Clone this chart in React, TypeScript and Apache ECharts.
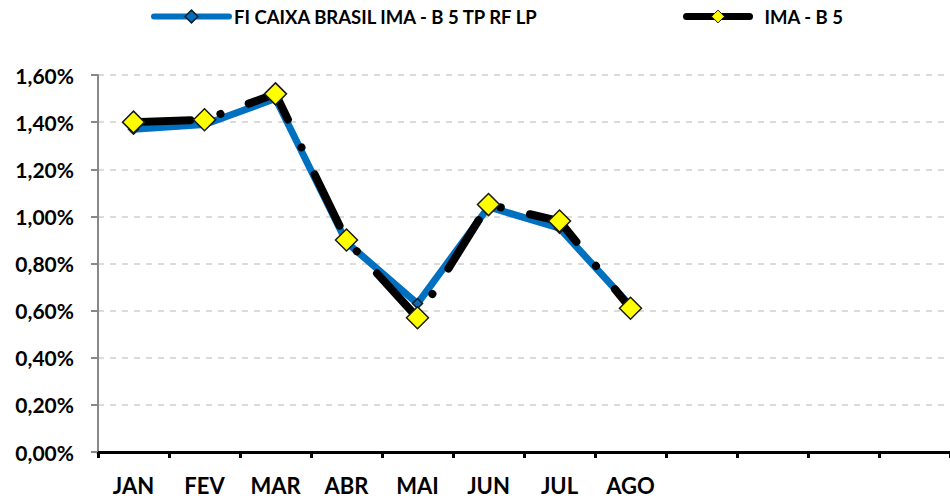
import React, { useEffect, useRef } from "react";
import * as echarts from "echarts";

const categories = ["JAN", "FEV", "MAR", "ABR", "MAI", "JUN", "JUL", "AGO", "", "", "", ""];
const fundName = "FI CAIXA BRASIL IMA - B 5 TP RF LP";
const indexName = "IMA - B 5";
const fundValues = [1.37, 1.39, 1.5, 0.89, 0.63, 1.04, 0.95, 0.62];
const indexValues = [1.4, 1.41, 1.52, 0.9, 0.57, 1.05, 0.98, 0.61];
const yMin = 0;
const yMax = 1.6;
const yInterval = 0.2;

const fmt = (v: number) => v.toFixed(2).replace(".", ",") + "%";

export default function App() {
  const ref = useRef<HTMLDivElement>(null);
  useEffect(() => {
    if (!ref.current) return;
    const chart = echarts.init(ref.current, undefined, { renderer: "svg" });
    const font = "Lato, 'Open Sans', sans-serif";
    chart.setOption({
      animation: false,
      backgroundColor: "#ffffff",
      textStyle: { fontFamily: font },
      legend: [
        {
          left: 151,
          top: 7,
          padding: 0,
          itemWidth: 75,
          itemHeight: 16,
          itemGap: 8,
          textStyle: { fontFamily: font, fontWeight: "bold", fontSize: 18.5, color: "#000" },
          data: [
            {
              name: fundName,
              lineStyle: { width: 6, cap: "round" },
              itemStyle: { borderWidth: 1.5 },
            },
          ],
        },
        {
          left: 683,
          top: 7,
          padding: 0,
          itemWidth: 63,
          itemHeight: 16,
          textStyle: { fontFamily: font, fontWeight: "bold", fontSize: 18.5, color: "#000", padding: [0, 0, 0, 10] },
          data: [
            {
              name: indexName,
              lineStyle: { type: "solid", width: 7, cap: "round" },
              itemStyle: { borderWidth: 1 },
            },
          ],
        },
      ],
      grid: { left: 98, right: 0, top: 75, bottom: 46, containLabel: false },
      xAxis: {
        type: "category",
        data: categories,
        boundaryGap: true,
        axisLine: { lineStyle: { color: "#000", width: 3 } },
        axisTick: { show: true, length: 6, lineStyle: { color: "#000", width: 3 } },
        axisLabel: { interval: 0, fontFamily: font, fontWeight: "bold", fontSize: 22, color: "#000", margin: 22 },
      },
      yAxis: {
        type: "value",
        min: yMin,
        max: yMax,
        interval: yInterval,
        axisLine: { show: true, lineStyle: { color: "#888", width: 2 } },
        axisTick: { show: true, length: 7, lineStyle: { color: "#888", width: 2 } },
        axisLabel: { fontFamily: font, fontWeight: "bold", fontSize: 21, color: "#000", margin: 24, formatter: fmt },
        splitLine: { show: true, lineStyle: { color: "#D0D0D0", width: 1.5, type: [6, 6] } },
      },
      series: [
        {
          name: fundName,
          type: "line",
          data: fundValues,
          symbol: "diamond",
          symbolSize: 10,
          itemStyle: { color: "#0070C0", borderColor: "#1a1a1a", borderWidth: 1.5 },
          lineStyle: { color: "#0070C0", width: 7, cap: "round", join: "round" },
          z: 2,
        },
        {
          name: indexName,
          type: "line",
          data: indexValues,
          symbol: "diamond",
          symbolSize: 22,
          itemStyle: { color: "#FFFF00", borderColor: "#1a1a1a", borderWidth: 1.5 },
          lineStyle: { color: "#000", width: 8, type: [57, 31, 0.1, 30], cap: "round", join: "round" },
          z: 3,
        },
      ],
    });
    return () => chart.dispose();
  }, []);
  return <div ref={ref} style={{ width: 950, height: 498, position: "absolute", left: 0, top: 0 }} />;
}
